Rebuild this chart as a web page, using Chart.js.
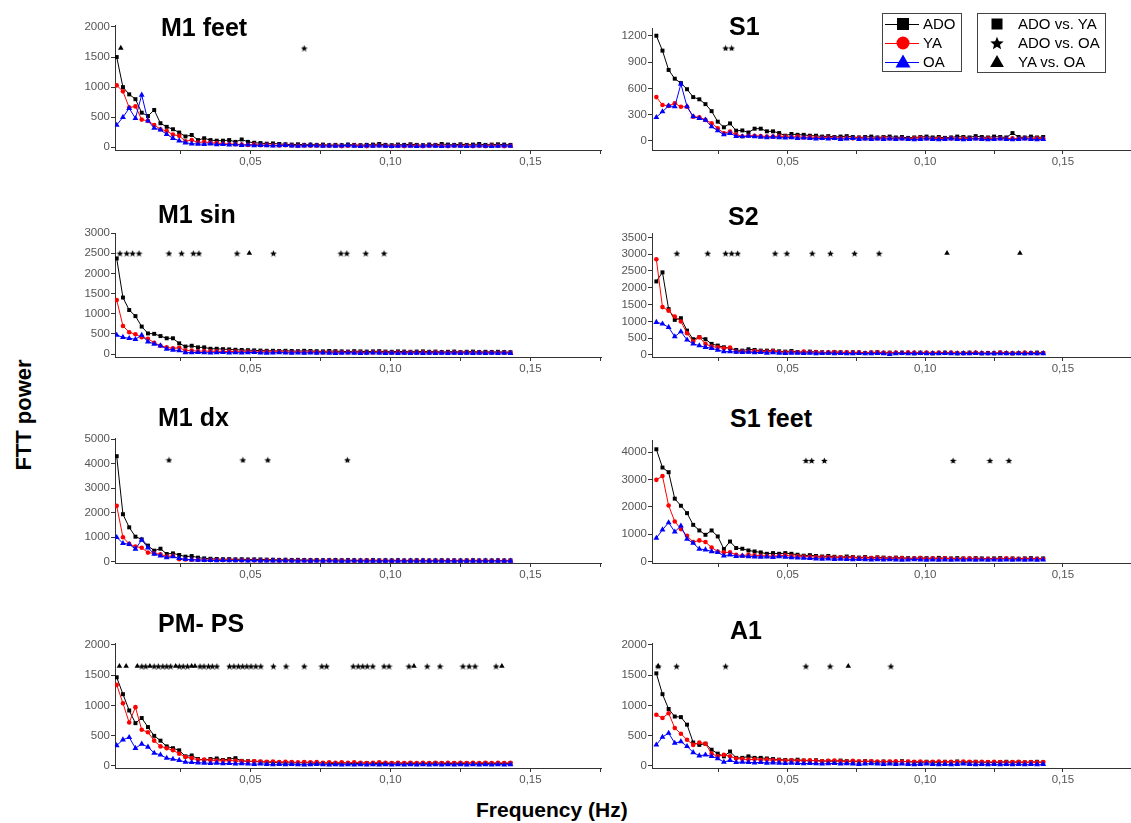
<!DOCTYPE html>
<html>
<head>
<meta charset="utf-8">
<script src="https://cdn.jsdelivr.net/npm/chart.js@4.4.0/dist/chart.umd.min.js"></script>
<style>
  body { margin: 0; width: 1131px; height: 823px; position: relative; overflow: hidden; background: #fff; font-family: "Liberation Sans", Arial, sans-serif; }
  canvas.panel { position: absolute; }
  .title { position: absolute; font-weight: bold; font-size: 25px; line-height: 25px; color: #000; white-space: nowrap; }
  .legend-box { position: absolute; border: 1px solid #444; box-sizing: border-box; }
  .legend-text { position: absolute; font-size: 15px; line-height: 15px; color: #000; white-space: nowrap; }
  .axis-title { position: absolute; font-weight: bold; color: #000; white-space: nowrap; }
</style>
</head>
<body>
<div class="axis-title" id="ytitle" style="font-size:22px; left:24px; top:415px; transform: translate(-50%, -50%) rotate(-90deg);">FTT power</div>
<div class="axis-title" style="font-size:21px; left:476px; top:798px;">Frequency (Hz)</div>

<script>
// frequency bins of the spectrum (k / 448 Hz, k = 1..64)
const freqs = Array.from({ length: 64 }, (_, i) => (i + 1) / 448)

// M1 feet
const m1FeetADO = [1500, 1000, 880, 800, 575, 520, 620, 400, 340, 300, 245, 180, 205, 120, 150, 120, 110, 110, 120, 90, 130, 90, 75, 70, 60, 65, 55, 50, 45, 50, 40, 45, 40, 45, 35, 40, 35, 45, 40, 35, 40, 45, 55, 40, 35, 45, 40, 50, 40, 35, 45, 40, 55, 45, 40, 50, 40, 45, 55, 40, 45, 50, 45, 40]
const m1FeetYA = [1030, 930, 660, 680, 460, 440, 370, 300, 270, 210, 190, 100, 120, 80, 90, 75, 70, 60, 55, 50, 45, 40, 50, 35, 40, 35, 30, 35, 30, 25, 30, 25, 30, 25, 25, 30, 20, 25, 30, 25, 20, 25, 30, 25, 20, 25, 20, 30, 25, 20, 25, 30, 25, 20, 25, 30, 25, 20, 25, 20, 30, 25, 20, 25]
const m1FeetOA = [370, 500, 650, 480, 870, 440, 320, 290, 215, 150, 110, 76, 60, 55, 50, 60, 45, 50, 40, 45, 35, 40, 30, 35, 30, 25, 30, 35, 25, 20, 25, 30, 25, 20, 25, 20, 25, 30, 20, 15, 25, 20, 25, 20, 15, 20, 25, 20, 15, 20, 25, 20, 15, 20, 25, 20, 15, 20, 25, 20, 15, 20, 25, 20]
const m1FeetStars = [0.0692]
const m1FeetTris = [0.0037]

// S1
const s1ADO = [1200, 1030, 810, 710, 660, 590, 500, 475, 420, 340, 220, 156, 200, 117, 120, 97, 140, 140, 110, 110, 90, 60, 80, 70, 70, 60, 60, 50, 55, 45, 50, 55, 45, 40, 45, 50, 40, 45, 50, 40, 45, 35, 40, 45, 50, 40, 45, 35, 40, 50, 45, 40, 55, 45, 40, 50, 45, 40, 90, 45, 40, 50, 40, 45]
const s1YA = [500, 410, 400, 430, 390, 390, 277, 270, 240, 202, 145, 88, 107, 72, 53, 60, 60, 55, 50, 50, 55, 50, 45, 50, 40, 45, 40, 35, 40, 35, 30, 35, 30, 35, 30, 25, 30, 35, 30, 25, 30, 25, 30, 35, 30, 25, 30, 25, 30, 25, 30, 25, 30, 25, 30, 25, 30, 25, 30, 25, 30, 25, 30, 25]
const s1OA = [270, 334, 400, 392, 650, 392, 277, 258, 239, 163, 118, 72, 88, 53, 50, 55, 50, 45, 40, 45, 40, 35, 40, 30, 35, 30, 25, 30, 25, 30, 20, 25, 30, 20, 25, 20, 25, 20, 25, 20, 25, 20, 15, 20, 25, 20, 15, 20, 25, 20, 15, 20, 25, 20, 15, 20, 25, 20, 15, 20, 25, 20, 15, 20]
const s1Stars = [0.0274, 0.0296]
const s1Tris = []

// M1 sin
const m1SinADO = [2370, 1400, 1090, 940, 680, 510, 500, 445, 390, 390, 265, 185, 205, 165, 165, 130, 130, 120, 115, 105, 100, 95, 90, 85, 80, 80, 75, 80, 75, 70, 80, 75, 70, 65, 75, 70, 65, 60, 70, 65, 60, 65, 70, 60, 55, 65, 60, 55, 60, 65, 55, 60, 50, 55, 60, 50, 55, 60, 50, 55, 50, 55, 50, 45]
const m1SinYA = [1340, 695, 540, 490, 415, 380, 280, 205, 165, 140, 155, 85, 85, 70, 75, 65, 70, 60, 65, 60, 55, 60, 55, 50, 55, 50, 55, 50, 45, 50, 45, 50, 45, 40, 45, 40, 45, 40, 45, 40, 35, 40, 45, 40, 35, 40, 35, 40, 35, 40, 35, 40, 35, 30, 35, 40, 35, 30, 35, 30, 35, 30, 35, 30]
const m1SinOA = [470, 415, 390, 365, 470, 305, 250, 205, 125, 100, 85, 35, 35, 40, 35, 30, 35, 40, 30, 35, 30, 35, 40, 30, 25, 30, 35, 30, 25, 30, 25, 30, 25, 30, 25, 20, 25, 30, 25, 20, 25, 30, 25, 20, 25, 20, 25, 20, 25, 20, 25, 20, 25, 20, 25, 20, 25, 20, 25, 20, 25, 20, 25, 20]
const m1SinStars = [0.0034, 0.0058, 0.0079, 0.0102, 0.0209, 0.0254, 0.0296, 0.0316, 0.0452, 0.0582, 0.0823, 0.0844, 0.0912, 0.0977]
const m1SinTris = [0.0496]

// S2
const s2ADO = [2190, 2460, 1365, 1045, 1095, 725, 470, 530, 470, 330, 280, 230, 200, 150, 130, 170, 150, 130, 130, 130, 110, 100, 120, 90, 80, 100, 90, 80, 70, 90, 80, 70, 80, 70, 60, 70, 80, 60, 70, 60, 70, 60, 50, 70, 60, 50, 60, 70, 60, 50, 60, 70, 60, 50, 60, 50, 70, 60, 50, 60, 50, 60, 70, 60]
const s2YA = [2850, 1425, 1320, 1145, 995, 650, 400, 530, 330, 250, 230, 200, 220, 100, 100, 100, 120, 110, 100, 120, 90, 80, 90, 80, 100, 80, 90, 70, 80, 90, 70, 80, 70, 80, 60, 70, 80, 70, 60, 70, 60, 80, 70, 60, 70, 60, 70, 60, 70, 60, 50, 60, 70, 60, 50, 60, 70, 60, 50, 60, 70, 60, 50, 60]
const s2OA = [975, 925, 825, 545, 695, 450, 330, 280, 230, 200, 150, 100, 100, 90, 80, 90, 70, 80, 60, 70, 60, 50, 60, 55, 50, 60, 45, 50, 55, 45, 50, 40, 45, 50, 40, 45, 50, 40, 20, 45, 50, 40, 45, 50, 40, 45, 40, 50, 45, 40, 45, 40, 50, 45, 40, 45, 40, 45, 40, 45, 40, 45, 40, 45]
const s2Stars = [0.0097, 0.0209, 0.0274, 0.0296, 0.0318, 0.0454, 0.0497, 0.0589, 0.0655, 0.0743, 0.0832]
const s2Tris = [0.1079, 0.1344]

// M1 dx
const m1DxADO = [4300, 1935, 1400, 1020, 910, 655, 450, 530, 315, 340, 275, 205, 230, 165, 135, 120, 110, 100, 105, 95, 100, 90, 95, 90, 85, 80, 75, 80, 70, 75, 70, 65, 70, 60, 65, 70, 60, 65, 60, 55, 60, 65, 55, 60, 55, 60, 50, 55, 60, 55, 50, 55, 60, 50, 55, 50, 55, 60, 50, 55, 50, 55, 50, 55]
const m1DxYA = [2275, 995, 725, 615, 570, 370, 340, 300, 205, 245, 100, 90, 80, 75, 70, 65, 70, 60, 65, 60, 55, 60, 55, 50, 55, 50, 45, 50, 45, 50, 45, 40, 45, 40, 45, 40, 45, 40, 35, 40, 45, 40, 35, 40, 35, 40, 35, 40, 35, 40, 35, 40, 35, 40, 35, 40, 35, 40, 35, 40, 35, 40, 35, 40]
const m1DxOA = [995, 750, 710, 520, 885, 570, 315, 245, 165, 205, 135, 100, 80, 70, 60, 55, 50, 55, 45, 50, 45, 40, 45, 40, 35, 40, 35, 40, 35, 30, 35, 30, 35, 30, 35, 30, 25, 30, 35, 30, 25, 30, 25, 30, 25, 30, 25, 30, 25, 30, 25, 30, 25, 30, 25, 30, 25, 30, 25, 30, 25, 30, 25, 30]
const m1DxStars = [0.0209, 0.0473, 0.0562, 0.0846]
const m1DxTris = []

// S1 feet
const s1FeetADO = [4110, 3440, 3270, 2300, 2040, 1770, 1340, 1135, 975, 1135, 915, 455, 730, 490, 465, 400, 365, 330, 280, 305, 280, 305, 280, 245, 210, 230, 200, 180, 200, 170, 150, 180, 160, 140, 160, 130, 150, 140, 120, 140, 130, 120, 110, 130, 120, 110, 130, 120, 110, 120, 110, 100, 120, 110, 100, 110, 120, 100, 110, 100, 110, 120, 100, 110]
const s1FeetYA = [2990, 3130, 2050, 1465, 1185, 940, 710, 770, 710, 510, 365, 330, 330, 245, 210, 245, 220, 210, 200, 190, 210, 220, 200, 190, 180, 170, 160, 150, 160, 140, 150, 130, 140, 120, 130, 120, 130, 110, 120, 110, 120, 100, 110, 120, 100, 110, 100, 110, 100, 90, 100, 110, 100, 90, 100, 90, 100, 110, 100, 90, 100, 90, 100, 90]
const s1FeetOA = [855, 1160, 1425, 1085, 1305, 820, 670, 455, 430, 365, 330, 210, 245, 185, 200, 180, 170, 160, 170, 150, 180, 160, 140, 130, 120, 110, 100, 90, 100, 80, 90, 80, 70, 80, 70, 60, 70, 60, 70, 60, 50, 60, 70, 60, 50, 60, 50, 60, 50, 60, 50, 60, 50, 60, 50, 60, 50, 60, 50, 60, 50, 60, 50, 60]
const s1FeetStars = [0.0566, 0.0587, 0.0633, 0.1101, 0.1235, 0.1304]
const s1FeetTris = []

// PM- PS
const pmPsADO = [1465, 1185, 915, 705, 790, 640, 495, 415, 320, 290, 255, 155, 170, 110, 95, 110, 120, 95, 110, 125, 80, 75, 70, 65, 60, 55, 50, 45, 50, 45, 50, 45, 40, 45, 40, 35, 45, 40, 35, 40, 45, 35, 40, 35, 40, 45, 35, 40, 35, 40, 35, 45, 40, 35, 40, 35, 40, 45, 35, 40, 35, 40, 35, 40]
const pmPsYA = [1340, 1035, 715, 970, 595, 555, 415, 320, 290, 255, 200, 145, 125, 95, 100, 90, 85, 80, 85, 80, 75, 70, 75, 70, 65, 70, 60, 65, 60, 55, 60, 55, 60, 50, 55, 50, 55, 50, 55, 50, 45, 50, 55, 50, 45, 50, 45, 50, 45, 50, 45, 50, 45, 50, 45, 50, 45, 50, 45, 50, 45, 50, 45, 50]
const pmPsOA = [335, 430, 470, 290, 360, 310, 210, 180, 125, 110, 90, 60, 55, 50, 45, 40, 45, 35, 40, 30, 35, 30, 25, 30, 25, 20, 25, 20, 25, 20, 15, 20, 25, 20, 15, 20, 15, 20, 15, 20, 15, 20, 15, 20, 15, 20, 15, 20, 15, 20, 15, 20, 15, 20, 15, 20, 15, 20, 15, 20, 15, 20, 15, 20]
const pmPsStars = [0.0112, 0.0126, 0.0156, 0.0171, 0.0187, 0.0201, 0.0215, 0.0246, 0.0260, 0.0275, 0.0320, 0.0334, 0.0350, 0.0364, 0.0380, 0.0425, 0.0441, 0.0457, 0.0472, 0.0487, 0.0502, 0.0519, 0.0537, 0.0582, 0.0627, 0.0692, 0.0755, 0.0772, 0.0867, 0.0885, 0.0901, 0.0917, 0.0937, 0.0977, 0.0995, 0.1066, 0.1131, 0.1177, 0.1259, 0.1281, 0.1302, 0.1377]
const pmPsTris = [0.0032, 0.0056, 0.0096, 0.0141, 0.0233, 0.0290, 0.0302, 0.1084, 0.1398]

// A1
const a1ADO = [1530, 1185, 940, 815, 805, 680, 385, 345, 365, 265, 200, 155, 235, 130, 130, 155, 130, 130, 120, 110, 100, 95, 90, 100, 85, 80, 90, 75, 80, 70, 85, 75, 70, 65, 75, 70, 60, 70, 65, 60, 75, 65, 60, 55, 65, 60, 55, 65, 60, 70, 55, 60, 65, 55, 60, 50, 60, 65, 55, 60, 55, 60, 65, 55]
const a1YA = [845, 790, 870, 625, 530, 430, 345, 385, 365, 200, 155, 180, 155, 120, 110, 100, 105, 95, 100, 90, 95, 85, 90, 80, 85, 90, 80, 75, 80, 85, 75, 70, 80, 75, 70, 75, 70, 65, 70, 75, 65, 70, 65, 70, 60, 65, 70, 60, 65, 60, 70, 65, 60, 65, 60, 65, 60, 55, 60, 65, 55, 60, 55, 60]
const a1OA = [345, 475, 540, 375, 400, 320, 220, 165, 180, 155, 120, 60, 90, 55, 60, 55, 50, 55, 45, 50, 45, 40, 45, 40, 35, 40, 35, 30, 35, 40, 30, 35, 30, 25, 30, 35, 30, 25, 30, 25, 30, 25, 20, 25, 30, 25, 20, 25, 20, 25, 30, 25, 20, 25, 20, 25, 20, 25, 20, 25, 20, 25, 20, 25]
const a1Stars = [0.0029, 0.0096, 0.0274, 0.0566, 0.0654, 0.0875]
const a1Tris = [0.0029, 0.0720]

// y level where the significance marks sit in each panel
const markLevels = { m1feet: 1650, s1: 1060, m1sin: 2500, s2: 3030, m1dx: 4150, s1feet: 3700, pmps: 1650, a1: 1650 }

const panels = [
  { id: 'm1feet', title: 'M1 feet', ado: m1FeetADO, ya: m1FeetYA, oa: m1FeetOA, stars: m1FeetStars, tris: m1FeetTris, yTicks: [0, 500, 1000, 1500, 2000] },
  { id: 's1', title: 'S1', ado: s1ADO, ya: s1YA, oa: s1OA, stars: s1Stars, tris: s1Tris, yTicks: [0, 300, 600, 900, 1200] },
  { id: 'm1sin', title: 'M1 sin', ado: m1SinADO, ya: m1SinYA, oa: m1SinOA, stars: m1SinStars, tris: m1SinTris, yTicks: [0, 500, 1000, 1500, 2000, 2500, 3000] },
  { id: 's2', title: 'S2', ado: s2ADO, ya: s2YA, oa: s2OA, stars: s2Stars, tris: s2Tris, yTicks: [0, 500, 1000, 1500, 2000, 2500, 3000, 3500] },
  { id: 'm1dx', title: 'M1 dx', ado: m1DxADO, ya: m1DxYA, oa: m1DxOA, stars: m1DxStars, tris: m1DxTris, yTicks: [0, 1000, 2000, 3000, 4000, 5000] },
  { id: 's1feet', title: 'S1 feet', ado: s1FeetADO, ya: s1FeetYA, oa: s1FeetOA, stars: s1FeetStars, tris: s1FeetTris, yTicks: [0, 1000, 2000, 3000, 4000] },
  { id: 'pmps', title: 'PM- PS', ado: pmPsADO, ya: pmPsYA, oa: pmPsOA, stars: pmPsStars, tris: pmPsTris, yTicks: [0, 500, 1000, 1500, 2000] },
  { id: 'a1', title: 'A1', ado: a1ADO, ya: a1YA, oa: a1OA, stars: a1Stars, tris: a1Tris, yTicks: [0, 500, 1000, 1500, 2000] }
]

// page geometry: columns (x) and per-panel plot boxes (y)
const columns = [
  { left: 115, right: 601, zeroX: 110.45, pxPerHz: 2800 },
  { left: 652, right: 1131, zeroX: 650.2, pxPerHz: 2751 }
]
const boxes = {
  m1feet: { col: 0, top: 25, bottom: 150, yMin: -45, yMax: 2033, titleX: 161, titleY: 15 },
  s1: { col: 1, top: 28, bottom: 150, yMin: -103, yMax: 1288, titleX: 729, titleY: 14 },
  m1sin: { col: 0, top: 233, bottom: 357, yMin: -74, yMax: 3000, titleX: 158, titleY: 202 },
  s2: { col: 1, top: 233, bottom: 357, yMin: -60, yMax: 3631, titleX: 728, titleY: 204 },
  m1dx: { col: 0, top: 438, bottom: 563, yMin: -53, yMax: 5041, titleX: 158, titleY: 405 },
  s1feet: { col: 1, top: 440, bottom: 563, yMin: -58, yMax: 4450, titleX: 730, titleY: 406 },
  pmps: { col: 0, top: 643, bottom: 768, yMin: -38, yMax: 2033, titleX: 158, titleY: 611 },
  a1: { col: 1, top: 643, bottom: 768, yMin: -38, yMax: 2033, titleX: 730, titleY: 618 }
}

const Y_AXIS_W = 60
const X_AXIS_H = 24
const PAD_TOP = 8
const PAD_RIGHT = 4

function starCanvas (size) {
  const c = document.createElement('canvas')
  c.width = c.height = size
  const ctx = c.getContext('2d')
  const r = size / 2
  const ri = r * 0.45
  ctx.beginPath()
  for (let i = 0; i < 10; i++) {
    const a = -Math.PI / 2 + i * Math.PI / 5
    const rr = i % 2 ? ri : r
    ctx.lineTo(r + rr * Math.cos(a), r + rr * Math.sin(a) + 0.5)
  }
  ctx.closePath()
  ctx.fillStyle = '#000'
  ctx.fill()
  return c
}

const smallStar = starCanvas(7)

function toPoints (values) {
  return values.map((v, i) => ({ x: freqs[i], y: v }))
}

function buildPanel (p) {
  const box = boxes[p.id]
  const col = columns[box.col]
  const canvas = document.createElement('canvas')
  canvas.className = 'panel'
  const left = col.left - Y_AXIS_W
  const top = box.top - PAD_TOP
  const width = col.right + PAD_RIGHT - left
  const height = box.bottom + X_AXIS_H - top
  canvas.width = width
  canvas.height = height
  canvas.style.left = left + 'px'
  canvas.style.top = top + 'px'
  document.body.appendChild(canvas)

  const xMin = (col.left - col.zeroX) / col.pxPerHz
  const xMax = (col.right - col.zeroX) / col.pxPerHz
  const level = markLevels[p.id]

  const series = (label, values, color, style, radius) => ({
    label: label,
    data: toPoints(values),
    showLine: true,
    borderColor: color,
    backgroundColor: color,
    borderWidth: 1,
    pointStyle: style,
    pointRadius: radius,
    pointBorderWidth: 0,
    pointBackgroundColor: color
  })

  const datasets = [
    {
      label: 'stars',
      data: p.stars.map(f => ({ x: f, y: level })),
      showLine: false,
      pointStyle: smallStar,
      pointRadius: 3
    },
    {
      label: 'tris',
      data: p.tris.map(f => ({ x: f, y: level })),
      showLine: false,
      pointStyle: 'triangle',
      pointRadius: 3.2,
      pointBorderWidth: 0,
      pointBackgroundColor: '#000'
    },
    series('OA', p.oa, '#0000ff', 'triangle', 3.4),
    series('YA', p.ya, '#ff0000', 'circle', 2.3),
    series('ADO', p.ado, '#000000', 'rect', 2.8)
  ]

  const axisColor = '#333'
  const tickFont = { family: '"Liberation Sans", Arial, sans-serif', size: 11.5 }

  new Chart(canvas.getContext('2d'), {
    type: 'scatter',
    data: { datasets: datasets },
    options: {
      responsive: false,
      animation: false,
      devicePixelRatio: 1,
      layout: { autoPadding: false, padding: { top: PAD_TOP, right: PAD_RIGHT, left: 0, bottom: 0 } },
      plugins: { legend: { display: false }, tooltip: { enabled: false } },
      scales: {
        x: {
          type: 'linear',
          min: xMin,
          max: xMax,
          afterFit: s => { s.height = X_AXIS_H },
          afterBuildTicks: s => {
            s.ticks = [0.025, 0.05, 0.075, 0.1, 0.125, 0.15, 0.175].filter(v => v <= xMax + 1e-9).map(v => ({ value: v }))
          },
          ticks: {
            color: '#555',
            font: tickFont,
            padding: 1,
            maxRotation: 0,
            autoSkip: false,
            callback: v => {
              const s = Math.round(v * 1000)
              return s % 50 === 0 ? (v.toFixed(2).replace('.', ',')) : ''
            }
          },
          grid: { drawOnChartArea: false, drawTicks: true, tickLength: 4, color: axisColor },
          border: { display: true, color: axisColor, width: 1 }
        },
        y: {
          min: box.yMin,
          max: box.yMax,
          afterFit: s => { s.width = Y_AXIS_W },
          afterBuildTicks: s => { s.ticks = p.yTicks.map(v => ({ value: v })) },
          ticks: { color: '#555', font: tickFont, padding: 1, autoSkip: false, callback: v => String(v) },
          grid: { drawOnChartArea: false, drawTicks: true, tickLength: 4, color: axisColor },
          border: { display: true, color: axisColor, width: 1 }
        }
      }
    }
  })

  const t = document.createElement('div')
  t.className = 'title'
  t.textContent = p.title
  t.style.left = box.titleX + 'px'
  t.style.top = box.titleY + 'px'
  document.body.appendChild(t)
}

panels.forEach(buildPanel)

// legends
function drawMark (ctx, style, x, y, r, color) {
  ctx.fillStyle = color
  ctx.beginPath()
  if (style === 'rect') {
    ctx.rect(x - r, y - r, 2 * r, 2 * r)
  } else if (style === 'circle') {
    ctx.arc(x, y, r, 0, Math.PI * 2)
  } else if (style === 'triangle') {
    ctx.moveTo(x, y - r * 1.15)
    ctx.lineTo(x + r * 1.15, y + r * 0.85)
    ctx.lineTo(x - r * 1.15, y + r * 0.85)
    ctx.closePath()
  } else if (style === 'star') {
    for (let i = 0; i < 10; i++) {
      const a = -Math.PI / 2 + i * Math.PI / 5
      const rr = i % 2 ? r * 0.45 : r
      ctx.lineTo(x + rr * Math.cos(a), y + rr * Math.sin(a) + r * 0.1)
    }
    ctx.closePath()
  }
  ctx.fill()
}

function legendBox (left, top, width, height, rows, symbolX, textX, lineSample) {
  const box = document.createElement('div')
  box.className = 'legend-box'
  Object.assign(box.style, { left: left + 'px', top: top + 'px', width: width + 'px', height: height + 'px' })
  document.body.appendChild(box)

  const c = document.createElement('canvas')
  c.width = width
  c.height = height
  c.style.position = 'absolute'
  c.style.left = left + 'px'
  c.style.top = top + 'px'
  document.body.appendChild(c)
  const ctx = c.getContext('2d')

  rows.forEach(r => {
    const cy = r.y - top
    if (lineSample) {
      ctx.strokeStyle = r.color
      ctx.lineWidth = 1
      ctx.beginPath()
      ctx.moveTo(3, cy + 0.5)
      ctx.lineTo(37, cy + 0.5)
      ctx.stroke()
    }
    drawMark(ctx, r.style, symbolX - left, cy, r.size, r.color)

    const t = document.createElement('div')
    t.className = 'legend-text'
    t.textContent = r.label
    t.style.left = textX + 'px'
    t.style.top = (r.y - 8) + 'px'
    document.body.appendChild(t)
  })
}

legendBox(882, 13, 80, 59, [
  { label: 'ADO', style: 'rect', color: '#000', size: 6, y: 24 },
  { label: 'YA', style: 'circle', color: '#ff0000', size: 6.5, y: 43 },
  { label: 'OA', style: 'triangle', color: '#0000ff', size: 6.5, y: 62 }
], 903, 923, true)

legendBox(977, 13, 129, 60, [
  { label: 'ADO vs. YA', style: 'rect', color: '#000', size: 5.5, y: 24 },
  { label: 'ADO vs. OA', style: 'star', color: '#000', size: 7, y: 43 },
  { label: 'YA vs. OA', style: 'triangle', color: '#000', size: 6, y: 62 }
], 997, 1018, false)
</script>
</body>
</html>
